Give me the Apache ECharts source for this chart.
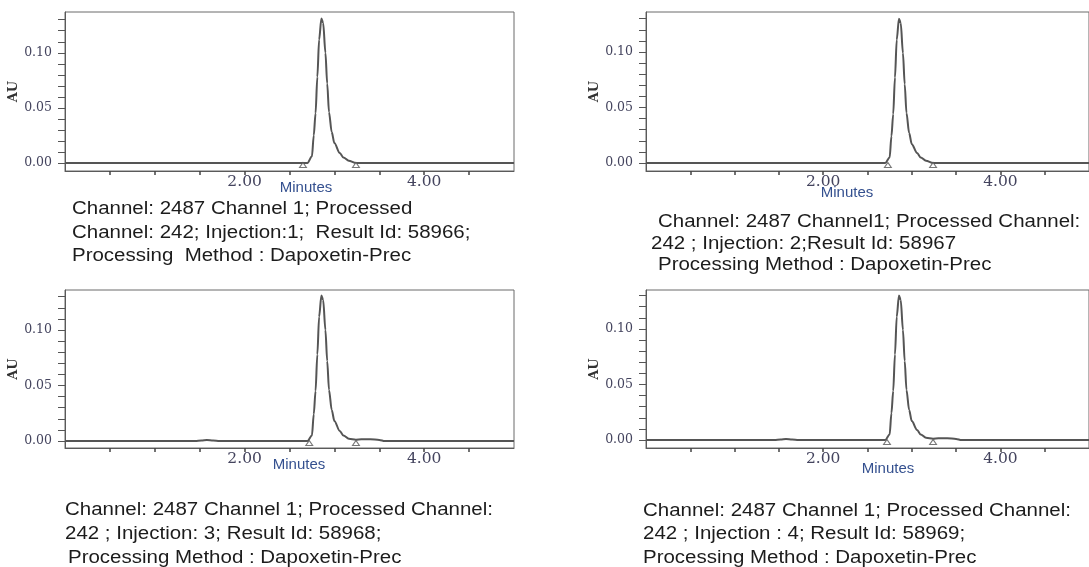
<!DOCTYPE html>
<html>
<head>
    <meta charset="utf-8">
    <title>Dapoxetine chromatograms</title>
    <script src="https://cdn.jsdelivr.net/npm/echarts@6.0.0/dist/echarts.min.js"></script>
</head>
<body style="margin:0;background:#fff;">
    <div id="main" style="width:1089px;height:567px;"></div>
    <script type="text/javascript">

    // retention time (minutes), shared by the four injections
    var timeMin = [0, 0.5, 1.0, 1.45, 1.52, 1.58, 1.65, 1.72, 2.0, 2.5,
        2.70, 2.75, 2.77, 2.79, 2.81, 2.83, 2.855, 2.875, 2.90, 2.92,
        2.94, 2.97, 3.00, 3.06, 3.10, 3.16, 3.24, 3.30, 3.40, 3.50,
        3.56, 4.0, 4.5, 5.0];

    // absorbance (AU) for each injection
    var au1 = [0, 0, 0, 0, 0, 0, 0, 0, 0, 0,
        0, 0.006, 0.025, 0.045, 0.078, 0.112, 0.131, 0.127, 0.100, 0.072,
        0.046, 0.028, 0.018, 0.009, 0.005, 0.002, 0, 0, 0, 0,
        0, 0, 0, 0];
    var au2 = [0, 0, 0, 0, 0, 0, 0, 0, 0, 0,
        0, 0.005, 0.024, 0.044, 0.077, 0.111, 0.130, 0.126, 0.099, 0.071,
        0.045, 0.027, 0.017, 0.009, 0.005, 0.002, 0, 0, 0, 0,
        0, 0, 0, 0];
    var au3 = [0, 0, 0, 0, 0.0005, 0.001, 0.0005, 0, 0, 0,
        0, 0.005, 0.024, 0.045, 0.078, 0.112, 0.131, 0.127, 0.100, 0.072,
        0.046, 0.028, 0.018, 0.009, 0.005, 0.002, 0.0012, 0.0015, 0.0015, 0.001,
        0, 0, 0, 0];
    var au4 = [0, 0, 0, 0, 0.0005, 0.001, 0.0005, 0, 0, 0,
        0, 0.005, 0.024, 0.044, 0.077, 0.111, 0.130, 0.126, 0.099, 0.071,
        0.045, 0.027, 0.017, 0.009, 0.005, 0.002, 0.0012, 0.0015, 0.0015, 0.001,
        0, 0, 0, 0];

    // integration marks (peak start / end, minutes)
    var peakStart = [2.65, 2.73, 2.72, 2.72];
    var peakEnd = [3.24, 3.24, 3.24, 3.24];

    // axis ticks and labels
    var xTicks = [0.5, 1.0, 1.5, 2.0, 2.5, 3.0, 3.5, 4.0, 4.5];
    var xLabels = [2, 4];
    var yTicks = [0, 0.01, 0.02, 0.03, 0.04, 0.05, 0.06, 0.07, 0.08, 0.09, 0.10, 0.11, 0.12, 0.13];
    var yLabels = [0, 0.05, 0.10];

    var captions = [
        ['Channel: 2487 Channel 1; Processed', 'Channel: 242; Injection:1;  Result Id: 58966;', 'Processing  Method : Dapoxetin-Prec'],
        ['Channel: 2487 Channel1; Processed Channel:', '242 ; Injection: 2;Result Id: 58967', 'Processing Method : Dapoxetin-Prec'],
        ['Channel: 2487 Channel 1; Processed Channel:', '242 ; Injection: 3; Result Id: 58968;', 'Processing Method : Dapoxetin-Prec'],
        ['Channel: 2487 Channel 1; Processed Channel:', '242 ; Injection : 4; Result Id: 58969;', 'Processing Method : Dapoxetin-Prec']
    ];

    var traces = [au1, au2, au3, au4];

    // panel layout
    var panels = [
        {left: 65, top: 12, width: 449, height: 159, yMin: -0.0073, yMax: 0.137,
         minutes: [306, 188], capX: [72, 72, 72], capY: [209, 233, 256]},
        {left: 646, top: 12, width: 445, height: 159, yMin: -0.0072, yMax: 0.136,
         minutes: [847, 193], capX: [658, 651, 658], capY: [222, 244, 265]},
        {left: 65, top: 290, width: 449, height: 158, yMin: -0.0063, yMax: 0.136,
         minutes: [299, 465], capX: [65, 65, 68], capY: [510, 534, 558]},
        {left: 646, top: 290, width: 445, height: 158, yMin: -0.0072, yMax: 0.135,
         minutes: [888, 469], capX: [643, 643, 643], capY: [511, 534, 558]}
    ];

    var chart = echarts.init(document.getElementById('main'));

    var option = {
        animation: false,
        backgroundColor: '#fff',
        grid: [],
        xAxis: [],
        yAxis: [],
        series: [],
        graphic: []
    };

    for (var i = 0; i < panels.length; i++) {
        var p = panels[i];
        option.grid.push({
            left: p.left, top: p.top, width: p.width, height: p.height,
            show: true, borderColor: '#6a6a6a', borderWidth: 1
        });
        option.xAxis.push({
            gridIndex: i, type: 'value', min: 0, max: 5, interval: 0.5,
            axisLine: {onZero: false, lineStyle: {color: '#5a5a5a', width: 1}},
            axisTick: {customValues: xTicks, length: 4, lineStyle: {color: '#444', width: 1.5}},
            axisLabel: {
                customValues: xLabels, margin: 3,
                fontFamily: 'DejaVu Serif', fontSize: 15.5, color: '#44445e',
                formatter: function (v) { return v.toFixed(2); }
            },
            splitLine: {show: false}
        });
        option.yAxis.push({
            gridIndex: i, type: 'value', min: p.yMin, max: p.yMax,
            name: 'AU', nameLocation: 'middle', nameRotate: 90, nameGap: 42,
            nameTextStyle: {fontFamily: 'DejaVu Serif', fontSize: 13, fontWeight: 'bold', color: '#333'},
            axisLine: {show: true, lineStyle: {color: '#5a5a5a', width: 1}},
            axisTick: {customValues: yTicks, length: 7, lineStyle: {color: '#555', width: 1}},
            axisLabel: {
                customValues: yLabels, margin: 13,
                fontFamily: 'DejaVu Serif', fontSize: 12.5, color: '#44445e',
                formatter: function (v) { return v.toFixed(2); }
            },
            splitLine: {show: false}
        });

        var pts = [];
        for (var k = 0; k < timeMin.length; k++) {
            pts.push([timeMin[k], traces[i][k]]);
        }
        option.series.push({
            type: 'line', xAxisIndex: i, yAxisIndex: i,
            data: pts, showSymbol: false, smooth: 0.3, smoothMonotone: 'x',
            lineStyle: {color: '#555', width: 2}
        });
        option.series.push({
            type: 'scatter', xAxisIndex: i, yAxisIndex: i,
            data: [[peakStart[i], 0], [peakEnd[i], 0]],
            symbol: 'triangle', symbolSize: [7, 5], symbolOffset: [0, 2],
            itemStyle: {color: '#fff', borderColor: '#555', borderWidth: 1},
            z: 3
        });

        option.graphic.push({
            type: 'text', x: p.minutes[0], y: p.minutes[1],
            style: {
                text: 'Minutes', fill: '#34508f',
                font: '15px "Liberation Sans"', textAlign: 'center', textVerticalAlign: 'middle'
            }
        });
        for (var j = 0; j < 3; j++) {
            option.graphic.push({
                type: 'text', x: p.capX[j], y: p.capY[j], scaleX: 1.17,
                style: {
                    text: captions[i][j], fill: '#1c1c1c',
                    font: '17.5px "Liberation Sans"', textAlign: 'left', textVerticalAlign: 'middle'
                }
            });
        }
    }

    chart.setOption(option);
    </script>
</body>
</html>
